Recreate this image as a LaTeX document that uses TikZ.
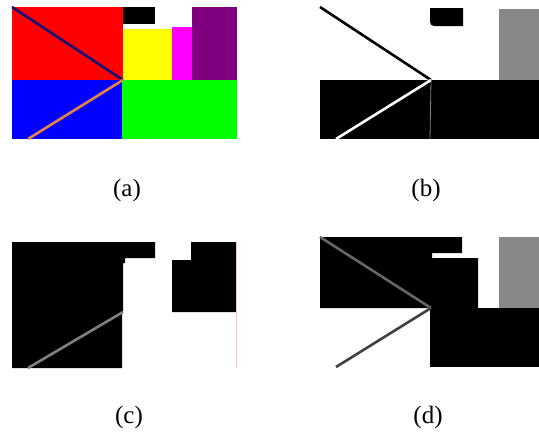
\documentclass[tikz,border=0pt]{standalone}
\usepackage{fontspec}
\setmainfont{Liberation Serif}
\usetikzlibrary{positioning}
\definecolor{navyline}{RGB}{20,20,120}
\definecolor{orangeline}{RGB}{230,130,70}
\definecolor{redbox}{RGB}{255,0,0}
\definecolor{yellowbox}{RGB}{255,255,0}
\definecolor{magentabox}{RGB}{255,0,255}
\definecolor{purplebox}{RGB}{128,0,128}
\definecolor{bluebox}{RGB}{0,0,255}
\definecolor{greenbox}{RGB}{0,255,0}
\definecolor{graybox}{RGB}{136,136,136}
\begin{document}
\begin{tikzpicture}[
    x=1pt, y=-1pt,
    region/.style={fill=#1, draw=none},
    cut/.style={line width=2.6pt, draw=#1},
    thincut/.style={line width=0.8pt, draw=#1},
    caption/.style={font=\fontsize{25}{28}\selectfont, inner sep=0pt}
]
\useasboundingbox (0,0) rectangle (539,434);

% ---- (a): coloured regions ----
\fill[region=redbox] (12,7) rectangle (123,80);
\fill[region=black] (123,7) rectangle (155,24);
\fill[region=yellowbox] (123,29) rectangle (172,80);
\fill[region=magentabox] (172,27) rectangle (192,80);
\fill[region=purplebox] (192,7) rectangle (237,80);
\fill[region=bluebox] (12,80) rectangle (122,139);
\fill[region=greenbox] (122,80) rectangle (237,139);
\coordinate (aTL) at (12,7);
\coordinate (aC) at (123,80);
\coordinate (aB) at (28,139);
\draw[cut=navyline] (aTL) -- (aC);
\draw[cut=orangeline] (aB) -- (aC);

% ---- (b): binary mask ----
\fill[region=black] (430,8) -- (463,8) -- (463,26) -- (434,26)
    to[out=180,in=-90] (430,22) -- cycle;
\fill[region=graybox] (499,9) rectangle (539,80);
\fill[region=black] (320,80) rectangle (539,139);
\coordinate (bTL) at (320,7);
\coordinate (bC) at (431,80);
\coordinate (bB) at (336,139);
\coordinate (bD) at (430,139);
\draw[cut=black] (bTL) -- (bC);
\draw[cut=white] (bB) -- (bC);
\draw[thincut=gray] (bC) -- (bD);

% ---- (c) ----
\fill[region=black] (12,242) -- (155,242) -- (155,258) -- (125,258)
    -- (125,263) -- (123,263) -- (123,312) -- (122,312) -- (122,368)
    -- (12,368) -- cycle;
\fill[region=black] (172,260) -- (191,260) -- (191,242) -- (236,242)
    -- (236,312) -- (172,312) -- cycle;
\coordinate (cTop) at (236.5,242);
\coordinate (cBot) at (236.5,368);
\draw[thincut=pink] (cTop) -- (cBot);
\coordinate (cC) at (123,312);
\coordinate (cB) at (28,368);
\draw[cut=gray] (cB) -- (cC);

% ---- (d) ----
\fill[region=black] (320,237) -- (462,237) -- (462,253) -- (432,253)
    -- (432,258) -- (478,258) -- (478,308) -- (320,308) -- cycle;
\fill[region=black] (430,308) rectangle (539,367);
\fill[region=graybox] (499,237) rectangle (539,308);
\coordinate (dTL) at (320,237);
\coordinate (dC) at (431,308);
\coordinate (dB) at (336,367);
\draw[cut={black!60}] (dTL) -- (dC);
\draw[cut={black!75}] (dB) -- (dC);

% ---- captions ----
\node[caption] (capA) at (127,190) {(a)};
\node[caption] (capB) at (426,190) {(b)};
\node[caption] (capC) at (129,417) {(c)};
\node[caption] (capD) at (428,417) {(d)};
\end{tikzpicture}
\end{document}
